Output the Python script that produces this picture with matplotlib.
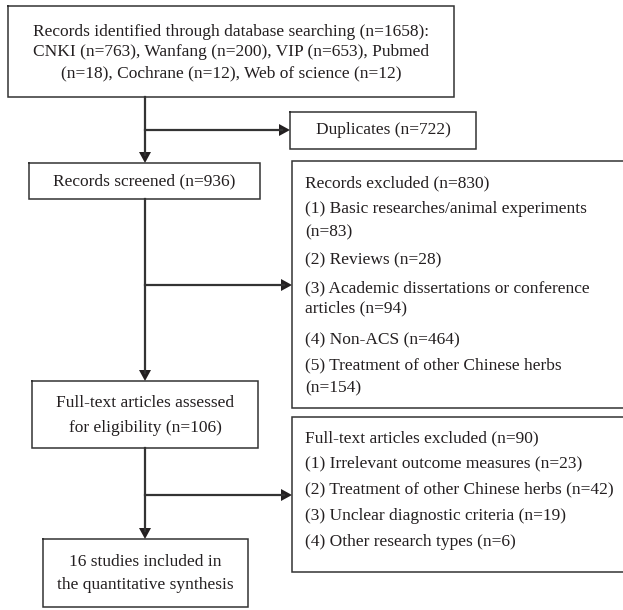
import matplotlib
matplotlib.use("Agg")
import matplotlib.pyplot as plt
from matplotlib.patches import Polygon

# counts
sources = ["CNKI", "Wanfang", "VIP", "Pubmed", "Cochrane", "Web of science"]
source_n = [763, 200, 653, 18, 12, 12]
n_identified = 1658
n_duplicates = 722
n_screened = 936
excl1_labels = ["Basic researches/animal experiments", "Reviews",
                "Academic dissertations or conference articles", "Non-ACS",
                "Treatment of other Chinese herbs"]
excl1_n = [83, 28, 94, 464, 154]
n_excl1 = 830
n_fulltext = 106
excl2_labels = ["Irrelevant outcome measures", "Treatment of other Chinese herbs",
                "Unclear diagnostic criteria", "Other research types"]
excl2_n = [23, 42, 19, 6]
n_excl2 = 90
n_included = 16

W, H = 623, 610
fig = plt.figure(figsize=(W/100, H/100), dpi=100)
ax = fig.add_axes([0, 0, 1, 1])
ax.set_xlim(0, W)
ax.set_ylim(H, 0)
ax.axis('off')

fs = 12.5
font = dict(family="Liberation Serif", fontsize=fs, color="#231f20")
edge = "#333333"
lw_box = 1.1
lw_arr = 1.6

def box(x0, y0, x1, y1, open_right=False):
    if open_right:
        ax.plot([x1, x0, x0, x1], [y0, y0, y1, y1], color=edge, lw=lw_box,
                solid_joinstyle='miter', clip_on=False)
    else:
        ax.plot([x0, x1, x1, x0, x0], [y0, y0, y1, y1, y0], color=edge, lw=lw_box,
                solid_joinstyle='miter')

def head(x, y, d):
    # filled arrowhead, tip at (x, y)
    L, w = 11, 6
    if d == 'down':
        pts = [(x, y), (x - w, y - L), (x + w, y - L)]
    else:
        pts = [(x, y), (x - L, y - w), (x - L, y + w)]
    ax.add_patch(Polygon(pts, closed=True, fc="#231f20", ec="none"))

def vline(x, y0, y1):
    ax.plot([x, x], [y0, y1 - 8], color="#333333", lw=lw_arr)
    head(x, y1, 'down')

def hline(y, x0, x1):
    ax.plot([x0, x1 - 8], [y, y], color="#333333", lw=lw_arr)
    head(x1, y, 'right')

# top box
box(8, 6, 454, 97)
src = ["%s (n=%d)" % (s, n) for s, n in zip(sources, source_n)]
top_lines = ["Records identified through database searching (n=%d):" % n_identified,
             ", ".join(src[:3]) + ", " + src[3].split(" ")[0],
             "(" + src[3].split("(")[1] + ", " + ", ".join(src[4:])]
for yy, t in zip([32, 52, 73], top_lines):
    ax.text(231, yy, t, ha='center', va='center', **font)

# duplicates
box(290, 112, 476, 149)
ax.text(383, 130, "Duplicates (n=%d)" % n_duplicates, ha='center', va='center', **font)

# screened
box(29, 163, 260, 199)
ax.text(144.5, 181, "Records screened (n=%d)" % n_screened, ha='center', va='center', **font)

# records excluded
box(292, 161, 640, 408, open_right=True)
rows = [(183, "Records excluded (n=%d)" % n_excl1),
        (209, "(1) " + excl1_labels[0]),
        (232, "(n=%d)" % excl1_n[0]),
        (260, "(2) %s (n=%d)" % (excl1_labels[1], excl1_n[1])),
        (288, "(3) Academic dissertations or conference"),
        (308, "articles (n=%d)" % excl1_n[2]),
        (340, "(4) %s (n=%d)" % (excl1_labels[3], excl1_n[3])),
        (365, "(5) " + excl1_labels[4]),
        (388, "(n=%d)" % excl1_n[4])]
for yy, t in rows:
    ax.text(305, yy, t, ha='left', va='center', **font)

# full text assessed
box(32, 381, 258, 448)
ax.text(145, 403, "Full-text articles assessed", ha='center', va='center', **font)
ax.text(145, 428, "for eligibility (n=%d)" % n_fulltext, ha='center', va='center', **font)

# full text excluded
box(292, 417, 640, 572, open_right=True)
rows2 = [(438, "Full-text articles excluded (n=%d)" % n_excl2)]
for i, (lab, n) in enumerate(zip(excl2_labels, excl2_n)):
    rows2.append((463 + i * 26.5, "(%d) %s (n=%d)" % (i + 1, lab, n)))
for yy, t in rows2:
    ax.text(305, yy, t, ha='left', va='center', **font)

# included
box(43, 539, 248, 607)
ax.text(145.5, 562, "%d studies included in" % n_included, ha='center', va='center', **font)
ax.text(145.5, 585, "the quantitative synthesis", ha='center', va='center', **font)

# connectors
vline(145, 97, 163)
hline(130, 145, 290)
vline(145, 199, 381)
hline(285, 145, 292)
vline(145, 448, 539)
hline(495, 145, 292)

fig.savefig("out.png", dpi=100, facecolor="white")
